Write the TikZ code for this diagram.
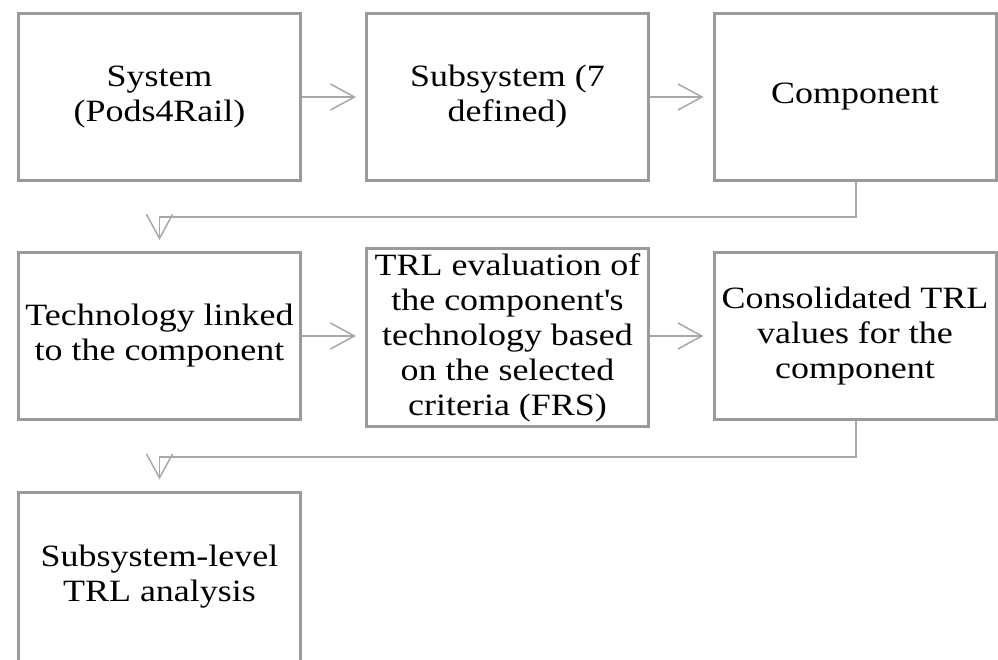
\documentclass[tikz,border=0pt]{standalone}
\usepackage{fontspec}
\setmainfont{Liberation Serif}[FakeStretch=1.16]
\usetikzlibrary{arrows.meta}
\definecolor{boxgray}{HTML}{9A9A9A}
\definecolor{linkgray}{HTML}{A8A8A8}
\tikzset{
  stage/.style={draw=boxgray, line width=3pt, fill=white, align=center,
    minimum width=282pt, minimum height=167pt, inner sep=0pt,
    font=\fontsize{31}{35}\selectfont},
  link/.style={draw=linkgray, line width=1.5pt,
    -{Straight Barb[length=24pt,width=26pt,line width=1.5pt]}},
}
\begin{document}
\begin{tikzpicture}[x=1pt,y=-1pt]
  \useasboundingbox (0,0) rectangle (998,660);
  \clip (0,0) rectangle (998,660);
  % first row
  \node[stage] (sys)  at (159.5,97) {System\\(Pods4Rail)};
  \node[stage] (sub)  at (507.5,97) {Subsystem (7\\defined)};
  \node[stage] (comp) at (855,97)   {Component};
  % second row
  \node[stage] (tech) at (159.5,336) {Technology linked\\to the component};
  \node[stage, minimum height=178pt] (eval) at (507.5,337.5)
    {TRL evaluation of\\the component\textquotesingle s\\technology based\\on the selected\\criteria (FRS)};
  \node[stage] (cons) at (855,336) {Consolidated TRL\\values for the\\component};
  % third row, its lower edge runs off the page
  \node[stage, minimum height=170pt] (lvl) at (159.5,577)
    {Subsystem-level\\TRL analysis};
  % connectors
  \draw[link, shorten >=9pt] (sys.east) -- (sub.west);
  \draw[link, shorten >=9pt] (sub.east) -- (comp.west);
  \draw[link, shorten >=9pt] (tech.east) -- (eval.west |- tech.east);
  \draw[link, shorten >=9pt] (eval.east |- cons.west) -- (cons.west);
  \coordinate (b1) at (856,217);
  \coordinate (b2) at (856,457);
  \draw[link, shorten >=11pt] (comp.south -| b1) -- (b1) -| (tech.north);
  \draw[link, shorten >=11pt] (cons.south -| b2) -- (b2) -| (lvl.north);
\end{tikzpicture}
\end{document}
